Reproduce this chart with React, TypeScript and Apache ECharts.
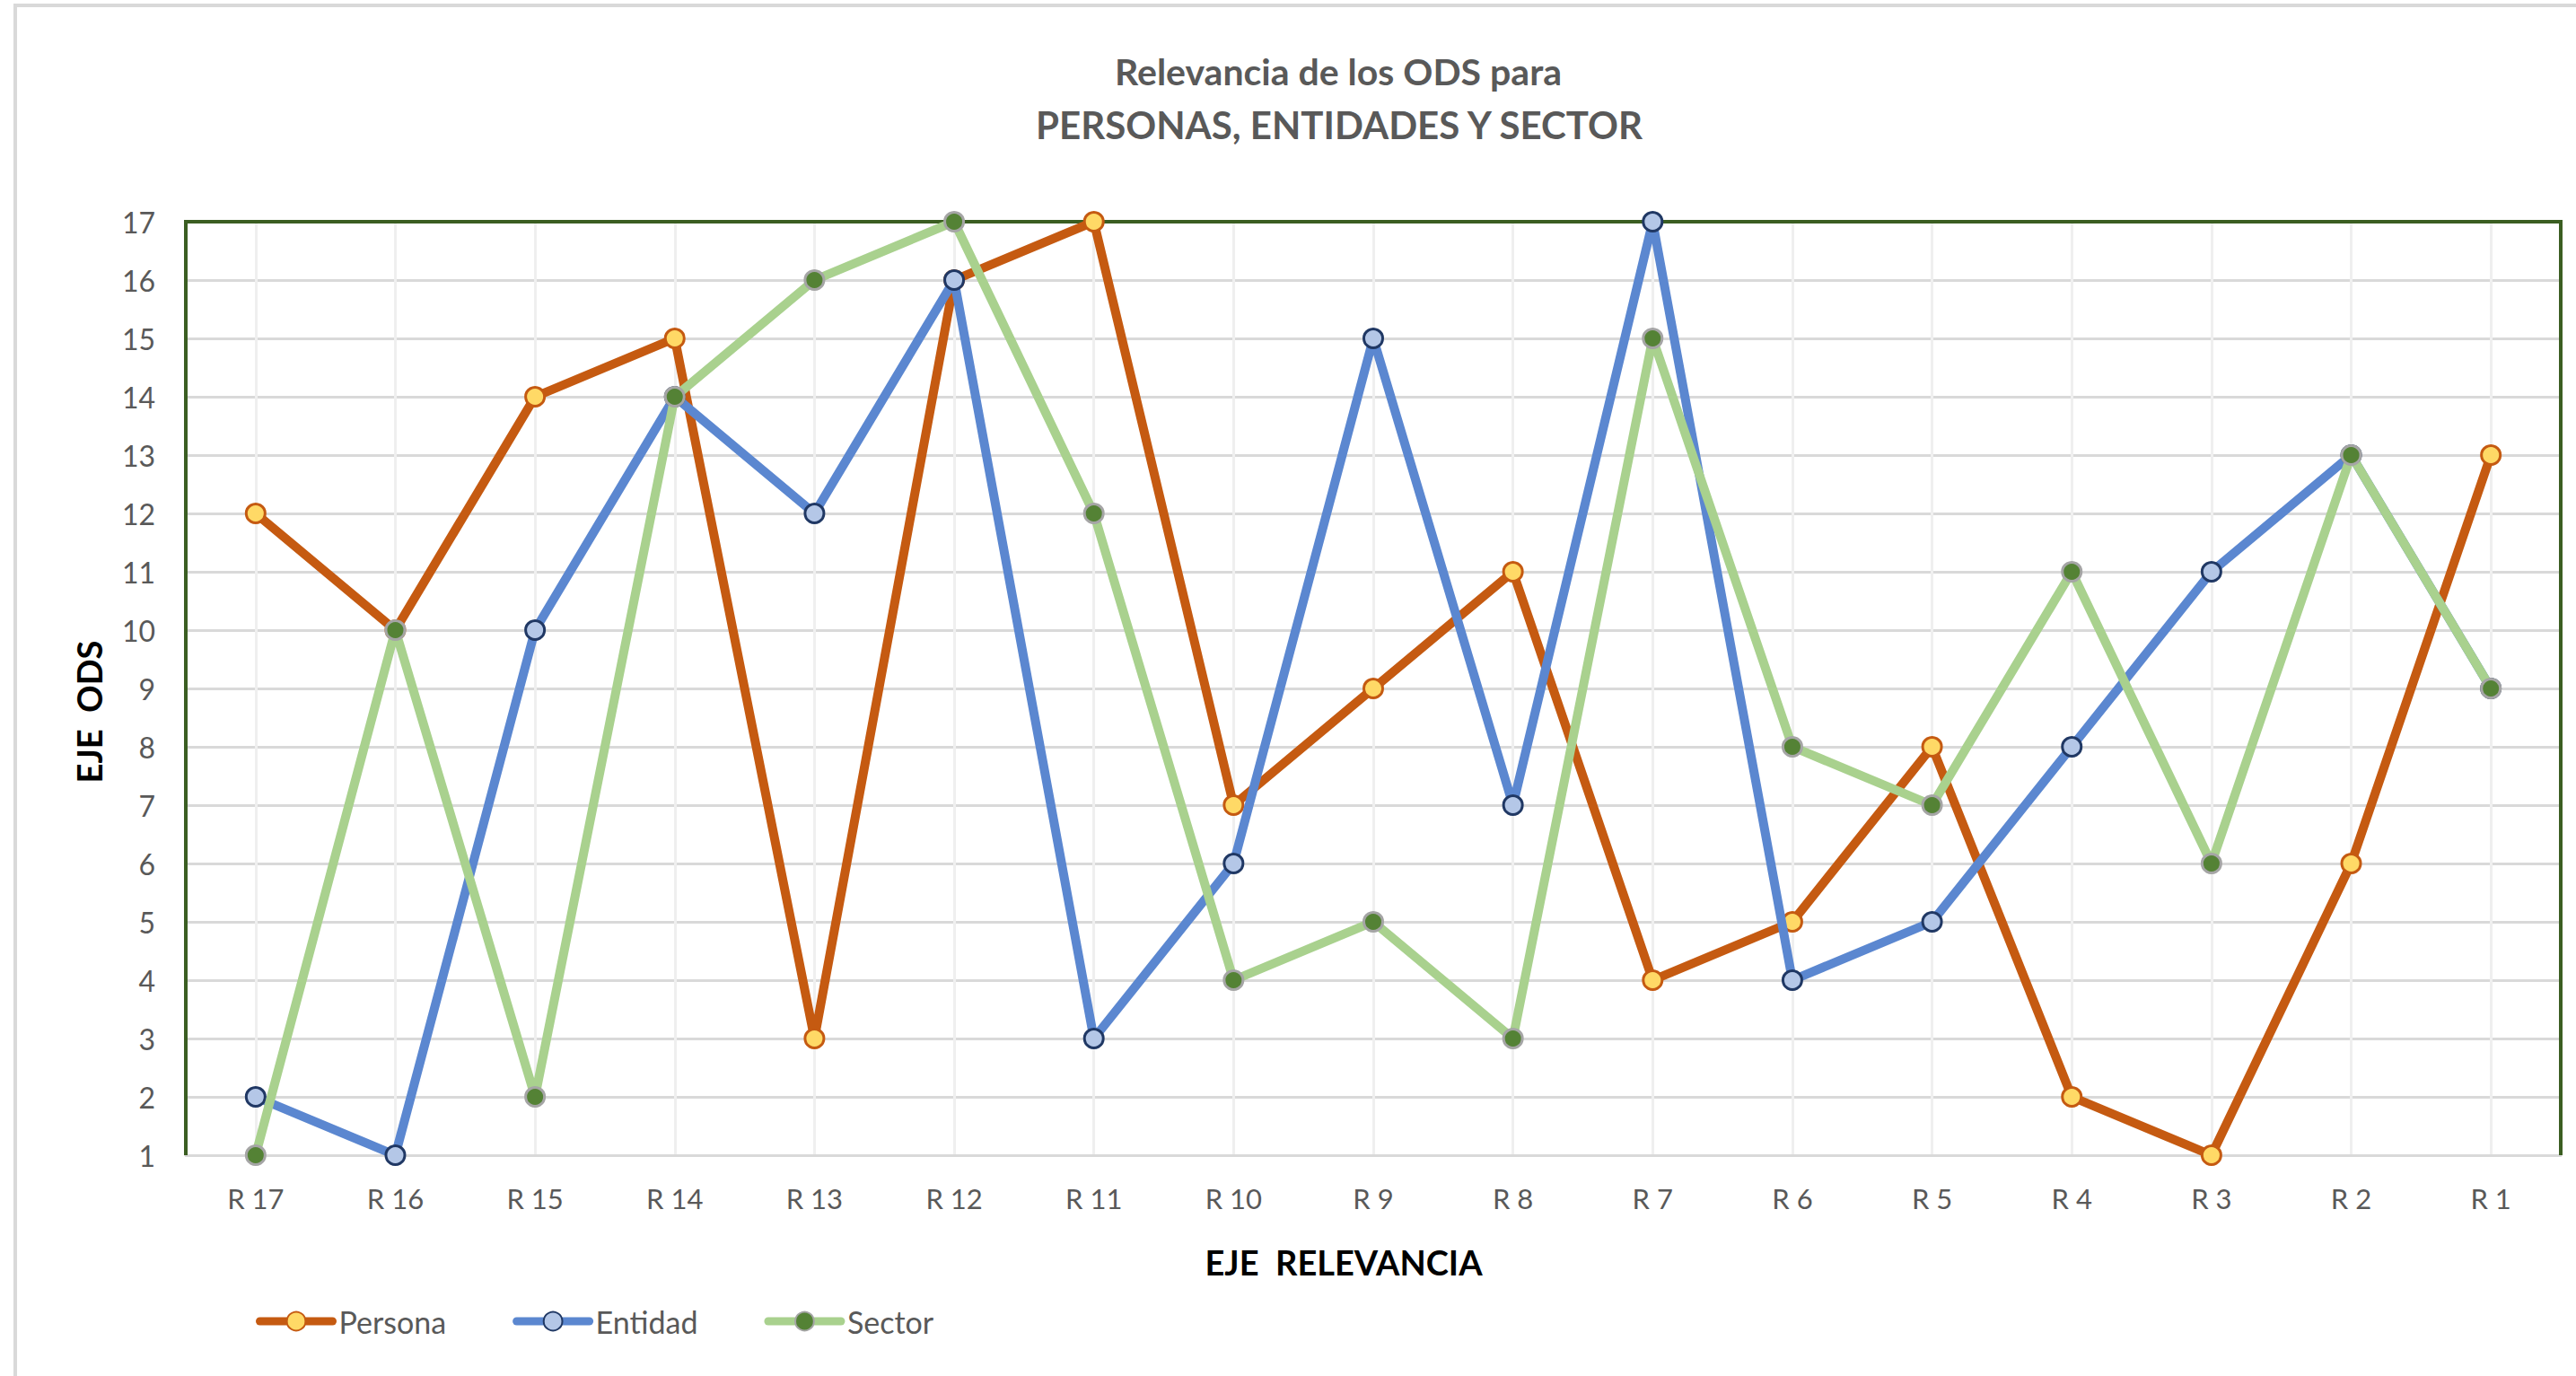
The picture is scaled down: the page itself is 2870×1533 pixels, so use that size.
import React, { useEffect, useRef } from "react";
import * as echarts from "echarts";

const categories = ["R 17", "R 16", "R 15", "R 14", "R 13", "R 12", "R 11", "R 10", "R 9", "R 8", "R 7", "R 6", "R 5", "R 4", "R 3", "R 2", "R 1"];
const persona = [12, 10, 14, 15, 3, 16, 17, 7, 9, 11, 4, 5, 8, 2, 1, 6, 13];
const entidad = [2, 1, 10, 14, 12, 16, 3, 6, 15, 7, 17, 4, 5, 8, 11, 13, 9];
const sector = [1, 10, 2, 14, 16, 17, 12, 4, 5, 3, 15, 8, 7, 11, 6, 13, 9];
const seriesNames = ["Persona", "Entidad", "Sector"];
const yMin = 1;
const yMax = 17;
const titleLines = ["Relevancia de los ODS para", "PERSONAS, ENTIDADES Y SECTOR"];
const xAxisTitle = "EJE  RELEVANCIA";
const yAxisTitle = "EJE  ODS";

const FONT = "Lato, 'Open Sans', sans-serif";

export default function App() {
  const ref = useRef<HTMLDivElement>(null);
  useEffect(() => {
    document.body.style.margin = "0";
    const chart = echarts.init(ref.current!, null, { renderer: "svg" });
    const mk = (name: string, data: number[], line: string, fill: string, border: string, z: number) => ({
      name,
      type: "line",
      data,
      z,
      symbol: "circle",
      symbolSize: 21,
      showAllSymbol: true,
      lineStyle: { color: line, width: 10, cap: "round", join: "round" },
      itemStyle: { color: fill, borderColor: border, borderWidth: 3 },
      emphasis: { disabled: true },
    });
    const L = 207, T = 247, W = 2646, H = 1040;
    chart.setOption({
      animation: false,
      backgroundColor: "#ffffff",
      textStyle: { fontFamily: FONT },
      grid: { left: L, top: T, width: W, height: H, show: false },
      xAxis: {
        type: "category",
        data: categories,
        boundaryGap: true,
        axisLine: { show: true, lineStyle: { color: "#D9D9D9", width: 3 } },
        axisTick: { show: false },
        axisLabel: { color: "#595959", fontSize: 31, fontFamily: FONT, margin: 32, interval: 0 },
        splitLine: { show: true, alignWithLabel: true, lineStyle: { color: "#EFEFEF", width: 3 } },
      },
      yAxis: {
        type: "value",
        min: yMin,
        max: yMax,
        interval: 1,
        axisLine: { show: false },
        axisTick: { show: false },
        axisLabel: { color: "#595959", fontSize: 32, fontFamily: FONT, margin: 34 },
        splitLine: { show: true, lineStyle: { color: "#D9D9D9", width: 3 } },
      },
      legend: {
        data: seriesNames,
        left: 280,
        top: 1450,
        itemWidth: 81,
        itemHeight: 26,
        itemGap: 74,
        lineStyle: { width: 9, cap: "round" },
        textStyle: { color: "#595959", fontSize: 34, fontFamily: FONT, padding: [0, 0, 0, 2] },
      },
      graphic: [
        { type: "rect", shape: { x: 17, y: 6, width: 4000, height: 3000 }, style: { fill: "none", stroke: "#D9D9D9", lineWidth: 4 }, z: -1, silent: true },
        { type: "polyline", shape: { points: [[L, T + H], [L, T], [L + W, T], [L + W, T + H]] }, style: { fill: "none", stroke: "#3B5E22", lineWidth: 4 }, z: 1, silent: true },
        { type: "text", x: 1491, y: 79, style: { text: titleLines[0], fill: "#595959", font: `bold 41px ${FONT}`, textAlign: "center", textVerticalAlign: "middle" } },
        { type: "text", x: 1492, y: 139, style: { text: titleLines[1], fill: "#595959", font: `bold 42px ${FONT}`, textAlign: "center", textVerticalAlign: "middle" } },
        { type: "text", x: 1497, y: 1406, style: { text: xAxisTitle, fill: "#000000", font: `bold 38px ${FONT}`, textAlign: "center", textVerticalAlign: "middle" } },
        { type: "text", x: 99, y: 793, rotation: Math.PI / 2, style: { text: yAxisTitle, fill: "#000000", font: `bold 38px ${FONT}`, textAlign: "center", textVerticalAlign: "middle" } },
      ],
      series: [
        mk(seriesNames[0], persona, "#C55A11", "#FFD966", "#C55A11", 2),
        mk(seriesNames[1], entidad, "#5B87D0", "#B4C7E7", "#203864", 3),
        mk(seriesNames[2], sector, "#A9D18E", "#548235", "#A5A5A5", 4),
      ],
    });
    return () => chart.dispose();
  }, []);
  return <div ref={ref} style={{ width: 2870, height: 1533 }} />;
}
